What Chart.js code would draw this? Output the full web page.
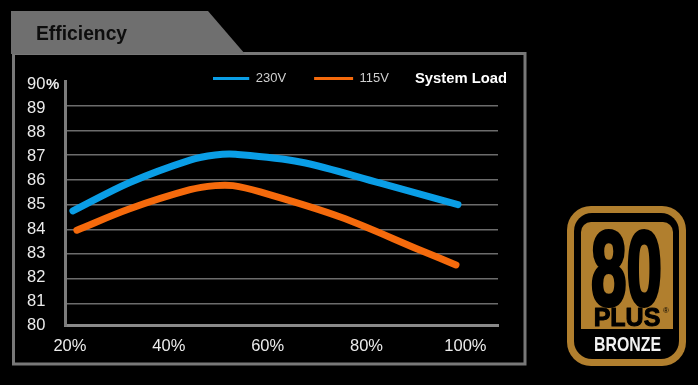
<!DOCTYPE html>
<html>
<head>
<meta charset="utf-8">
<style>
  html, body { margin: 0; background: #000; }
  canvas { display: block; }
</style>
<script src="https://cdn.jsdelivr.net/npm/chart.js@4"></script>
</head>
<body>
<canvas id="c" width="698" height="385"></canvas>
<script>
const xTicks = [20, 40, 60, 80, 100];
const gridTicks = [81, 82, 83, 84, 85, 86, 87, 88, 89];
const yTickLabels = [80, 81, 82, 83, 84, 85, 86, 87, 88, 89, 90];

const load230 = [20.6, 32.1, 44.3, 49.4, 53.5, 66.6, 82.8, 98.5];
const eff230 = [84.75, 85.93, 86.86, 87.07, 87.1, 86.78, 85.9, 85.01];
const load115 = [21.4, 32.1, 44.3, 49.4, 53, 58.5, 74.7, 90.9, 98.1];
const eff115 = [83.95, 84.84, 85.63, 85.8, 85.8, 85.54, 84.5, 83.12, 82.51];

const BLUE = '#0a9ee6';
const ORANGE = '#f56a0c';
const GOLD = '#b17f2e';
const FONT = '"Liberation Sans", Arial, sans-serif';

const toPoints = (xs, ys) => xs.map((x, i) => ({ x, y: ys[i] }));

// panel frame, tab and badge sit behind the chart
const backdrop = {
  id: 'backdrop',
  beforeDraw(chart){
    const c = chart.ctx;
    c.save();
    c.strokeStyle = '#787878';
    c.lineWidth = 3;
    c.strokeRect(13.5, 53.5, 511.5, 310.5);
    c.fillStyle = '#6f6f6f';
    c.beginPath();
    c.moveTo(11, 11);
    c.lineTo(208, 11);
    c.lineTo(245, 54);
    c.lineTo(11, 54);
    c.closePath();
    c.fill();
    c.fillStyle = '#0d0d0d';
    c.font = `bold 19.3px ${FONT}`;
    c.textBaseline = 'middle';
    c.fillText('Efficiency', 36, 35);
    drawBadge(c);
    c.restore();
  },
  afterDraw(chart){
    const c = chart.ctx;
    c.save();
    c.textBaseline = 'middle';
    c.fillStyle = '#fff';
    c.font = `bold 14.8px ${FONT}`;
    c.fillText('System Load', 415, 79);
    c.fillStyle = '#ececec';
    c.font = `bold 15px ${FONT}`;
    c.fillText('%', 46, chart.scales.yLabels.getPixelForValue(90));
    c.restore();
  }
};

function drawBadge(c){
  c.fillStyle = GOLD;
  c.beginPath();
  c.roundRect(567, 206, 119, 160, 24);
  c.fill();
  c.fillStyle = '#000';
  c.beginPath();
  c.roundRect(574, 213, 105, 146, 18);
  c.fill();
  c.fillStyle = GOLD;
  c.beginPath();
  c.roundRect(581, 222, 92, 107, [10, 10, 0, 0]);
  c.fill();

  c.textAlign = 'center';
  c.textBaseline = 'alphabetic';
  c.fillStyle = '#000';
  c.strokeStyle = '#000';
  c.lineJoin = 'round';
  c.lineWidth = 4;
  c.font = `bold 106px ${FONT}`;
  c.fillText('80', 626.5, 305, 71);
  c.strokeText('80', 626.5, 305, 71);
  c.lineWidth = 1;
  c.font = `bold 25px ${FONT}`;
  c.fillText('PLUS', 627, 326, 70);
  c.strokeText('PLUS', 627, 326, 70);
  c.font = `8px ${FONT}`;
  c.fillText('®', 666, 313);
  c.fillStyle = '#f2f2f2';
  c.font = `bold 19.5px ${FONT}`;
  c.fillText('BRONZE', 627.5, 351, 67);
  c.textAlign = 'left';
}

// legend sits inside the panel, level with the System Load caption
const placeLegend = {
  id: 'placeLegend',
  afterLayout(chart){
    const l = chart.legend;
    l.left = 213;
    l.right = 417;
    l.top = 44;
    l.bottom = 113;
  }
};

new Chart(document.getElementById('c'), {
  type: 'line',
  data: {
    datasets: [
      { label: '230V', data: toPoints(load230, eff230), borderColor: BLUE, backgroundColor: BLUE, order: 1 },
      { label: '115V', data: toPoints(load115, eff115), borderColor: ORANGE, backgroundColor: ORANGE, order: 2 }
    ]
  },
  plugins: [backdrop, placeLegend],
  options: {
    responsive: false,
    animation: false,
    layout: { padding: { left: 27, right: 200, top: 30, bottom: 0 } },
    elements: {
      point: { radius: 0 },
      line: { borderWidth: 7, borderCapStyle: 'round', borderJoinStyle: 'round', tension: 0.35 }
    },
    plugins: {
      tooltip: { enabled: false },
      legend: {
        position: 'top',
        align: 'end',
        labels: {
          boxWidth: 39,
          boxHeight: 3,
          padding: 28,
          color: '#cfcfcf',
          font: { family: FONT, size: 13 },
          generateLabels: (chart) => Chart.defaults.plugins.legend.labels.generateLabels(chart).map((it) => ({ ...it, lineWidth: 0 }))
        }
      }
    },
    scales: {
      x: {
        type: 'linear',
        min: 19,
        max: 106.6,
        afterBuildTicks: (s) => { s.ticks = xTicks.map((value) => ({ value })); },
        afterFit: (s) => { s.height = 59.3; },
        grid: { display: false },
        border: { color: '#8a8a8a', width: 3 },
        ticks: {
          color: '#ececec',
          padding: 3,
          maxRotation: 0,
          font: { family: FONT, size: 16.5 },
          callback: (v) => v + '%'
        }
      },
      yLabels: {
        position: 'left',
        weight: 1,
        min: 79.99,
        max: 90.14,
        afterBuildTicks: (s) => { s.ticks = yTickLabels.map((value) => ({ value })); },
        afterFit: (s) => { s.width = 38; },
        grid: { display: false, drawTicks: false },
        border: { display: false },
        ticks: {
          color: '#ececec',
          padding: 0,
          crossAlign: 'far',
          font: { family: FONT, size: 16.5 }
        }
      },
      y: {
        position: 'left',
        weight: 0,
        min: 80.11,
        max: 90,
        afterBuildTicks: (s) => { s.ticks = gridTicks.map((value) => ({ value })); },
        afterFit: (s) => { s.width = 0; },
        grid: { color: '#6c6c6c', lineWidth: 1.5, drawTicks: false },
        border: { color: '#7c7c7c', width: 3 },
        ticks: { display: false }
      }
    }
  }
});
</script>
</body>
</html>
